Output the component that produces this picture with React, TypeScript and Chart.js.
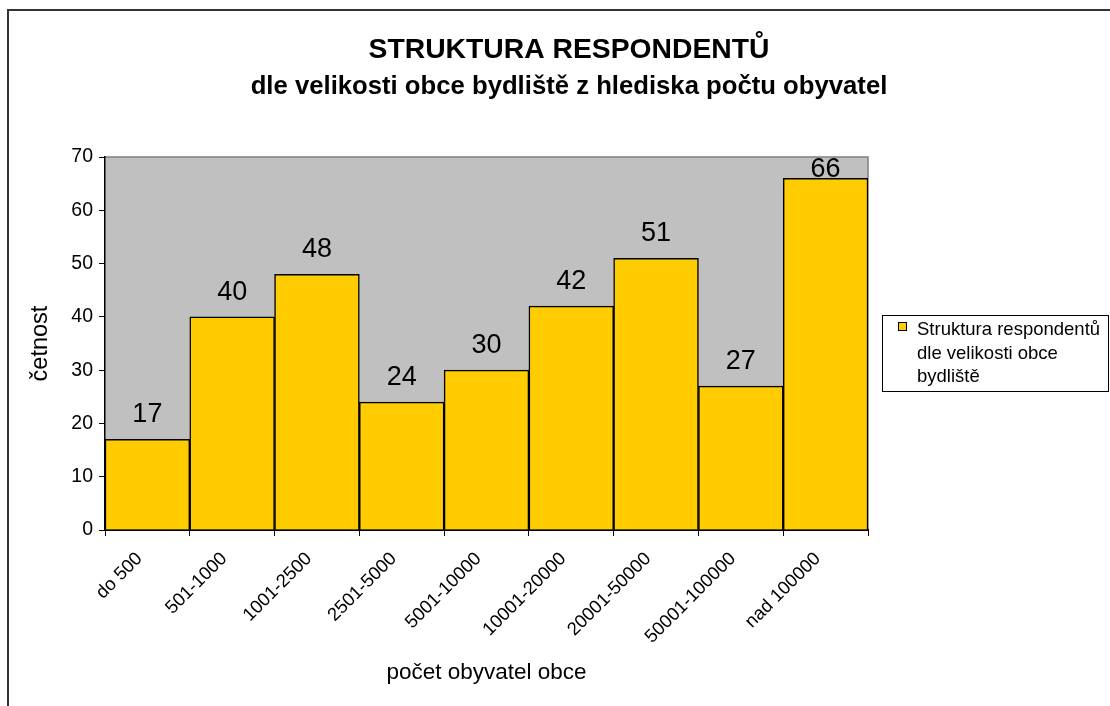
import React, { useEffect, useRef } from "react";
import { Chart, registerables } from "chart.js";

Chart.register(...registerables);

const categories = [
  "do 500",
  "501-1000",
  "1001-2500",
  "2501-5000",
  "5001-10000",
  "10001-20000",
  "20001-50000",
  "50001-100000",
  "nad 100000",
];
const counts = [17, 40, 48, 24, 30, 42, 51, 27, 66];
const titleLines = ["STRUKTURA RESPONDENTŮ", "dle velikosti obce bydliště z hlediska počtu obyvatel"];
const legendLines = ["Struktura respondentů", "dle velikosti obce", "bydliště"];
const yTitle = "četnost";
const xTitle = "počet obyvatel obce";
const yTicks = { min: 0, max: 70, step: 10 };

const FONT = "'Liberation Sans', Arial, sans-serif";
const BAR = "#FFCC00";

const decorPlugin = {
  id: "decor",
  beforeDraw(chart: any) {
    const { ctx, chartArea: a } = chart;
    ctx.save();
    ctx.fillStyle = "#ffffff";
    ctx.fillRect(0, 0, chart.width, chart.height);
    // outer frame
    ctx.strokeStyle = "#333333";
    ctx.lineWidth = 2;
    ctx.beginPath();
    ctx.moveTo(chart.width, 10);
    ctx.lineTo(8, 10);
    ctx.lineTo(8, chart.height);
    ctx.stroke();
    // plot area
    ctx.fillStyle = "#C0C0C0";
    ctx.fillRect(a.left, a.top, a.right - a.left, a.bottom - a.top);
    ctx.strokeStyle = "#808080";
    ctx.lineWidth = 1.5;
    ctx.beginPath();
    ctx.moveTo(a.left, a.top);
    ctx.lineTo(a.right, a.top);
    ctx.lineTo(a.right, a.bottom);
    ctx.stroke();
    ctx.restore();
  },
  afterDraw(chart: any) {
    const { ctx, chartArea: a } = chart;
    ctx.save();
    // titles
    ctx.fillStyle = "#000";
    ctx.textAlign = "center";
    ctx.textBaseline = "alphabetic";
    const cx = 569;
    ctx.font = `bold 28.3px ${FONT}`;
    ctx.fillText(titleLines[0], cx, 58);
    ctx.font = `bold 25.7px ${FONT}`;
    ctx.fillText(titleLines[1], cx, 94);

    // data labels
    const meta = chart.getDatasetMeta(0);
    ctx.font = `27px ${FONT}`;
    meta.data.forEach((bar: any, i: number) => {
      let base = bar.y - 17;
      if (base < a.top + 20) base = a.top + 20;
      ctx.fillText(String(counts[i]), bar.x, base);
    });

    // legend
    ctx.lineWidth = 1;
    ctx.strokeStyle = "#000";
    ctx.strokeRect(882.5, 315.5, 226, 76);
    ctx.fillStyle = BAR;
    ctx.fillRect(898, 322, 8, 8);
    ctx.strokeRect(898.5, 322.5, 8, 8);
    ctx.fillStyle = "#000";
    ctx.textAlign = "left";
    ctx.font = `18.5px ${FONT}`;
    legendLines.forEach((t, i) => ctx.fillText(t, 917, 335 + i * 23.5));
    ctx.restore();
  },
};

export default function App() {
  const ref = useRef<HTMLCanvasElement>(null);
  useEffect(() => {
    if (!ref.current) return;
    const chart = new Chart(ref.current, {
      type: "bar",
      data: {
        labels: categories,
        datasets: [
          {
            label: legendLines.join(" "),
            data: counts,
            backgroundColor: BAR,
            borderColor: "#000",
            borderWidth: 1.5,
            categoryPercentage: 1,
            barPercentage: 1,
          },
        ],
      },
      options: {
        responsive: false,
        animation: false,
        devicePixelRatio: 1,
        layout: { padding: { left: 0, right: 242, top: 157, bottom: 0 } },
        plugins: {
          legend: { display: false },
          title: { display: false },
          tooltip: { enabled: false },
        },
        scales: {
          x: {
            afterFit: (s: any) => {
              s.height = 176;
            },
            grid: {
              offset: true,
              drawOnChartArea: false,
              drawTicks: true,
              tickLength: 6,
              color: "#000",
              lineWidth: 1,
            },
            border: { display: true, color: "#000", width: 2 },
            ticks: {
              color: "#000",
              font: { family: FONT, size: 18.5 },
              minRotation: 45,
              maxRotation: 45,
              autoSkip: false,
              padding: 12,
              labelOffset: -8,
            },
            title: {
              display: true,
              text: xTitle,
              color: "#000",
              font: { family: FONT, size: 22.5 },
              padding: { top: 0, bottom: 20 },
            },
          },
          y: {
            min: yTicks.min,
            max: yTicks.max,
            afterFit: (s: any) => {
              s.width = 105;
            },
            grid: {
              drawOnChartArea: false,
              drawTicks: true,
              tickLength: 6,
              color: "#000",
              lineWidth: 1,
            },
            border: { display: true, color: "#000", width: 1.5 },
            ticks: {
              stepSize: yTicks.step,
              color: "#000",
              font: { family: FONT, size: 19.5 },
              padding: 6,
            },
            title: {
              display: true,
              text: yTitle,
              color: "#000",
              font: { family: FONT, size: 23.5 },
              padding: { top: 26, bottom: 0 },
            },
          },
        },
      },
      plugins: [decorPlugin],
    });
    return () => chart.destroy();
  }, []);
  return (
    <div style={{ position: "fixed", left: 0, top: 0, width: 1110, height: 706, background: "#fff" }}>
      <canvas ref={ref} width={1110} height={706} style={{ display: "block" }} />
    </div>
  );
}
